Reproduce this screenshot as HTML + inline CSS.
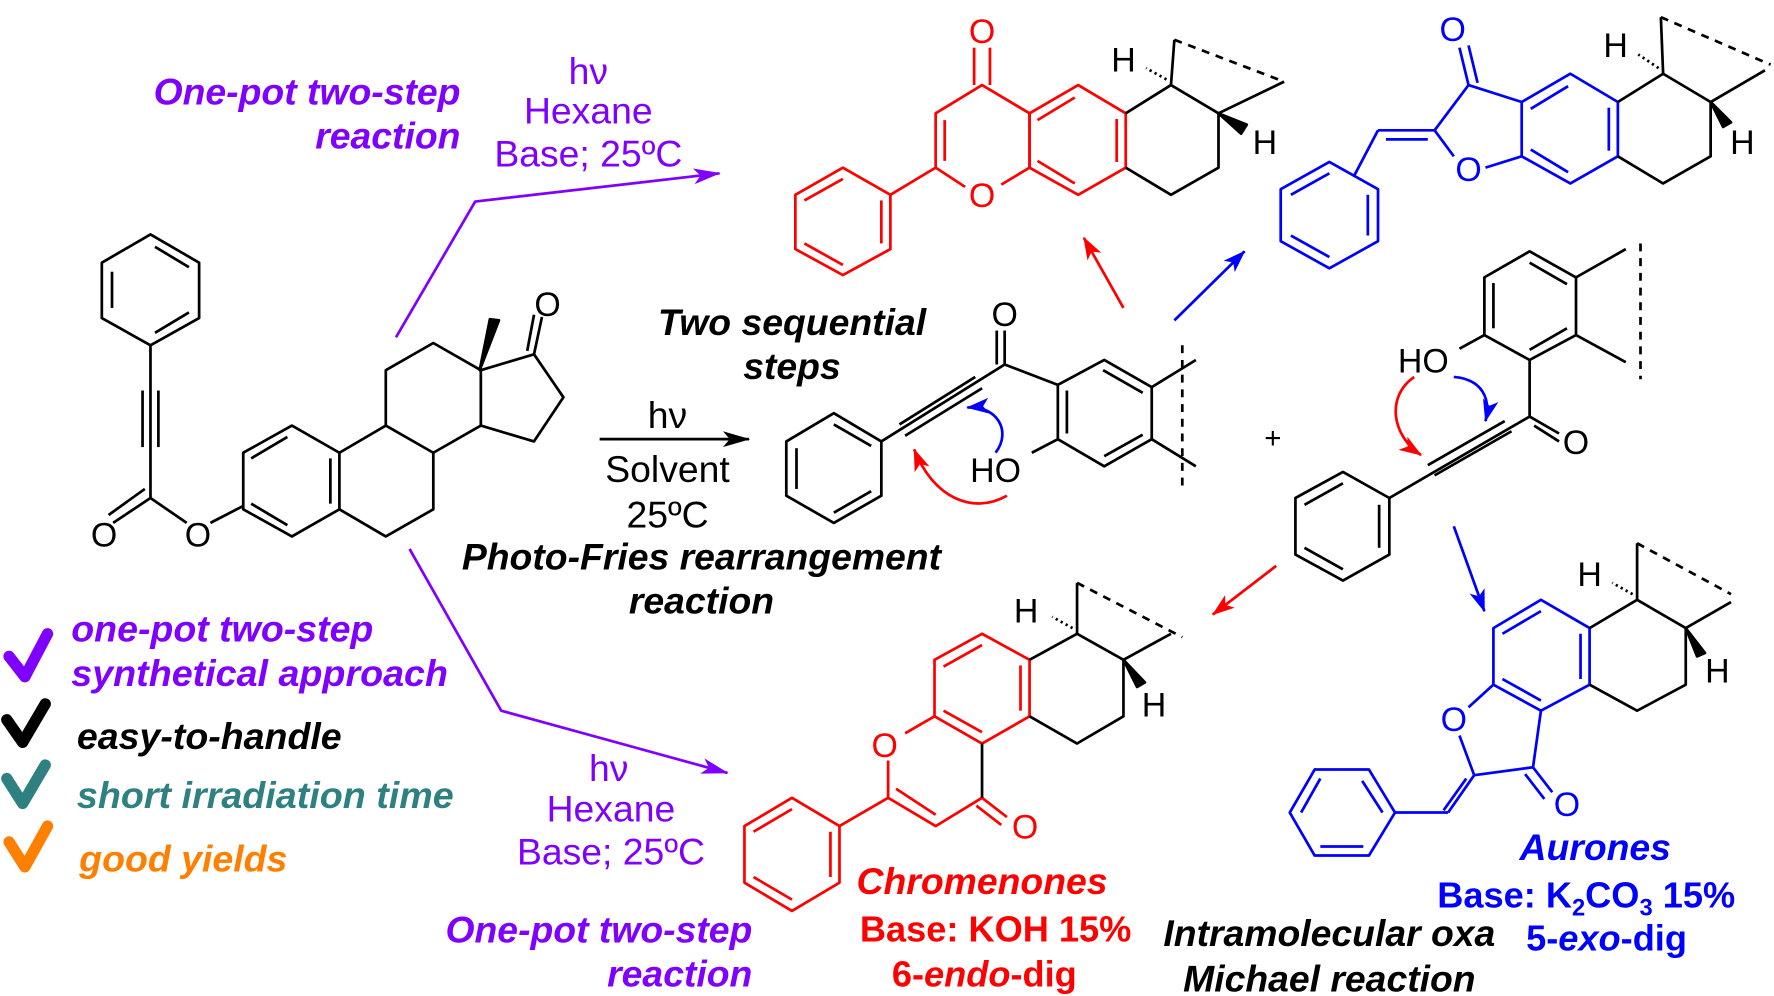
<!DOCTYPE html>
<html><head><meta charset="utf-8"><style>
html,body{margin:0;padding:0;background:#fff;}
svg{display:block;}
text{font-family:"Liberation Sans",Arial,sans-serif;}
.bi{font-weight:bold;font-style:italic;font-size:33px;}
.r{font-size:33px;}
.at{font-size:30px;}
</style></head><body>
<svg width="1774" height="996" viewBox="0 0 1568 880" xmlns="http://www.w3.org/2000/svg">
<defs>
<marker id="ak" markerWidth="24" markerHeight="14" refX="23" refY="7" orient="auto" markerUnits="userSpaceOnUse"><path d="M0,0 L24,7 L0,14 L6,7z" fill="#000"/></marker>
<marker id="ar" markerWidth="20" markerHeight="14" refX="19" refY="7" orient="auto" markerUnits="userSpaceOnUse"><path d="M0,0 L20,7 L0,14 L5,7z" fill="#f00"/></marker>
<marker id="ab" markerWidth="20" markerHeight="14" refX="19" refY="7" orient="auto" markerUnits="userSpaceOnUse"><path d="M0,0 L20,7 L0,14 L5,7z" fill="#00f"/></marker>
<marker id="app" markerWidth="24" markerHeight="14" refX="23" refY="7" orient="auto" markerUnits="userSpaceOnUse"><path d="M0,0 L24,7 L0,14 L6,7z" fill="#8000ff"/></marker>
</defs>
<g fill="none" stroke-width="2.4" stroke-linejoin="round">
<g stroke="#000">
<polygon points="133,207 176,232 176,281 133,305 90,281 90,232"/>
<line x1="137" y1="218" x2="167" y2="236"/><line x1="167" y1="276" x2="137" y2="294"/><line x1="99" y1="240" x2="99" y2="272"/>
<line x1="133" y1="305" x2="133" y2="440"/>
<line x1="126" y1="345" x2="126" y2="395"/><line x1="140" y1="345" x2="140" y2="395"/>
<line x1="133" y1="440" x2="100" y2="462"/><line x1="128" y1="432" x2="96" y2="455"/>
<line x1="133" y1="440" x2="165" y2="462"/>
<line x1="186" y1="462" x2="215" y2="447"/>
<polygon points="258,376 300,400 300,450 258,474 215,450 215,400"/>
<line x1="254" y1="386" x2="222" y2="405"/><line x1="292" y1="405" x2="292" y2="445"/><line x1="254" y1="464" x2="222" y2="445"/>
<polyline points="300,400 341,376 383,400 383,450 341,474 300,450"/>
<polyline points="341,376 341,327 383,303 425,327 425,376 383,400"/>
<polyline points="425,327 472,313 498,351 472,390 425,376"/>
<line x1="472" y1="313" x2="479" y2="280"/><line x1="466" y1="310" x2="472" y2="278"/>
<polygon points="424,327 433,282 441,283" fill="#000"/>
</g>
<g stroke="#8000ff">
<polyline points="350,298 420,178 636,153" marker-end="url(#app)"/>
<polyline points="362,485 443,628 643,683" marker-end="url(#app)"/>
</g>
<line x1="530" y1="388" x2="662" y2="388" stroke="#000" marker-end="url(#ak)"/>
<g stroke="#000">
<polygon points="737,365 779,390 779,438 737,462 695,438 695,390"/>
<line x1="737" y1="375" x2="770" y2="394"/><line x1="770" y1="434" x2="737" y2="453"/><line x1="704" y1="396" x2="704" y2="432"/>
<line x1="779" y1="390" x2="888" y2="322"/>
<line x1="800" y1="385" x2="868" y2="343"/><line x1="795" y1="375" x2="862" y2="333"/>
<line x1="888" y1="322" x2="888" y2="292"/><line x1="881" y1="322" x2="881" y2="292"/>
<line x1="888" y1="322" x2="935" y2="340"/>
<polygon points="935,340 976,318 1018,342 1018,388 976,412 935,388"/>
<line x1="975" y1="327" x2="1010" y2="347"/><line x1="1010" y1="384" x2="976" y2="403"/><line x1="943" y1="345" x2="943" y2="383"/>
<line x1="1018" y1="342" x2="1057" y2="318"/><line x1="1018" y1="388" x2="1057" y2="412"/>
<line x1="935" y1="388" x2="912" y2="400"/>
<line x1="1045" y1="305" x2="1045" y2="435" stroke-dasharray="7,6"/>
</g>
<path d="M890,438 C860,455 825,440 808,397" stroke="#f00" marker-end="url(#ar)"/>
<path d="M880,400 C895,380 880,358 855,360" stroke="#00f" marker-end="url(#ab)"/>
<g stroke="#000">
<polygon points="1352,222 1393,245 1393,296 1352,318 1312,296 1312,245"/>
<line x1="1352" y1="232" x2="1385" y2="251"/><line x1="1385" y1="290" x2="1352" y2="309"/><line x1="1320" y1="250" x2="1320" y2="290"/>
<line x1="1393" y1="245" x2="1437" y2="220"/><line x1="1393" y1="296" x2="1437" y2="320"/>
<line x1="1450" y1="215" x2="1450" y2="335" stroke-dasharray="7,6"/>
<line x1="1312" y1="296" x2="1290" y2="308"/>
<line x1="1352" y1="318" x2="1352" y2="368"/>
<line x1="1352" y1="368" x2="1378" y2="383"/><line x1="1356" y1="376" x2="1378" y2="390"/>
<line x1="1352" y1="368" x2="1228" y2="440"/>
<line x1="1330" y1="372" x2="1262" y2="411"/><line x1="1336" y1="381" x2="1268" y2="420"/>
<polygon points="1187,417 1228,440 1228,490 1187,513 1145,490 1145,440"/>
<line x1="1187" y1="427" x2="1153" y2="446"/><line x1="1219" y1="446" x2="1219" y2="484"/><line x1="1187" y1="503" x2="1153" y2="484"/>
</g>
<path d="M1250,333 C1225,350 1230,385 1256,402" stroke="#f00" marker-end="url(#ar)"/>
<path d="M1285,333 C1310,335 1318,352 1313,372" stroke="#00f" marker-end="url(#ab)"/>
<line x1="993" y1="272" x2="958" y2="210" stroke="#f00" marker-end="url(#ar)"/>
<line x1="1038" y1="283" x2="1100" y2="222" stroke="#00f" marker-end="url(#ab)"/>
<line x1="1128" y1="500" x2="1072" y2="543" stroke="#f00" marker-end="url(#ar)"/>
<line x1="1285" y1="465" x2="1312" y2="540" stroke="#00f" marker-end="url(#ab)"/>
<g stroke="#f00">
<polygon points="745,148 787,172 787,220 745,243 703,220 703,172"/>
<line x1="745" y1="158" x2="711" y2="177"/><line x1="711" y1="215" x2="745" y2="234"/><line x1="779" y1="177" x2="779" y2="215"/>
<line x1="787" y1="172" x2="827" y2="148"/>
<polyline points="853,165 827,148 827,100 868,75 910,100 910,148 885,163"/>
<line x1="835" y1="106" x2="835" y2="142"/>
<line x1="861" y1="75" x2="861" y2="42"/>
<line x1="875" y1="75" x2="875" y2="42"/>
<polygon points="910,100 953,75 995,100 995,148 953,172 910,148"/>
<line x1="917" y1="106" x2="950" y2="86"/><line x1="987" y1="105" x2="987" y2="143"/><line x1="917" y1="142" x2="950" y2="162"/>
</g>
<g stroke="#000">
<polyline points="995,100 1035,75 1077,100 1077,148 1035,172 995,148"/>
<line x1="1035" y1="75" x2="1038" y2="35"/>
<line x1="1038" y1="35" x2="1135" y2="72" stroke-dasharray="7,6"/>
<line x1="1077" y1="100" x2="1135" y2="72"/>
<line x1="1031" y1="70" x2="1013" y2="60" stroke-dasharray="2,3"/>
<polygon points="1077,100 1102,110 1097,118" fill="#000"/>
</g>
<g stroke="#00f">
<polygon points="1175,143 1218,167 1218,213 1175,237 1132,213 1132,167"/>
<line x1="1175" y1="153" x2="1141" y2="172"/><line x1="1141" y1="208" x2="1175" y2="227"/><line x1="1209" y1="172" x2="1209" y2="208"/>
<line x1="1197" y1="155" x2="1218" y2="115"/><line x1="1218" y1="115" x2="1268" y2="115"/><line x1="1225" y1="123" x2="1262" y2="123"/>
<polyline points="1285,138 1268,115 1298,75 1345,90"/>
<line x1="1298" y1="75" x2="1290" y2="42"/><line x1="1306" y1="73" x2="1298" y2="40"/>
<line x1="1345" y1="138" x2="1313" y2="148"/>
<polygon points="1345,90 1388,65 1430,90 1430,138 1388,162 1345,138"/>
<line x1="1353" y1="96" x2="1386" y2="76"/><line x1="1422" y1="95" x2="1422" y2="133"/><line x1="1353" y1="132" x2="1386" y2="152"/>
</g>
<g stroke="#000">
<polyline points="1430,90 1470,65 1512,90 1512,138 1470,162 1430,138"/>
<line x1="1470" y1="65" x2="1468" y2="15"/>
<line x1="1468" y1="15" x2="1565" y2="57" stroke-dasharray="7,6"/>
<line x1="1512" y1="90" x2="1560" y2="62"/>
<line x1="1466" y1="60" x2="1448" y2="48" stroke-dasharray="2,3"/>
<polygon points="1512,90 1530,108 1523,112" fill="#000"/>
</g>
<g stroke="#f00">
<polygon points="868,560 910,583 910,633 868,657 826,633 826,583"/>
<line x1="868" y1="570" x2="834" y2="589"/><line x1="902" y1="588" x2="902" y2="628"/><line x1="834" y1="628" x2="868" y2="647"/>
<line x1="826" y1="633" x2="800" y2="648"/>
<polyline points="785,672 785,705 827,730 868,705"/>
<line x1="792" y1="697" x2="827" y2="720"/>
<line x1="868" y1="705" x2="890" y2="722"/><line x1="863" y1="712" x2="885" y2="729"/>
<line x1="785" y1="705" x2="742" y2="730"/>
<polygon points="742,730 742,780 700,805 658,780 658,730 700,705"/>
<line x1="734" y1="735" x2="734" y2="775"/><line x1="700" y1="715" x2="666" y2="735"/><line x1="700" y1="795" x2="666" y2="775"/>
</g>
<g stroke="#000">
<line x1="868" y1="657" x2="868" y2="705"/>
<polyline points="910,583 952,560 993,583 993,633 952,657 910,633"/>
<line x1="952" y1="560" x2="952" y2="515"/>
<line x1="952" y1="515" x2="1045" y2="563" stroke-dasharray="7,6"/>
<line x1="993" y1="583" x2="1035" y2="560"/>
<line x1="948" y1="555" x2="930" y2="545" stroke-dasharray="2,3"/>
<polygon points="993,583 1012,603 1005,607" fill="#000"/>
</g>
<g stroke="#00f">
<polygon points="1362,530 1405,555 1405,605 1362,628 1320,605 1320,555"/>
<line x1="1362" y1="540" x2="1328" y2="560"/><line x1="1397" y1="560" x2="1397" y2="600"/><line x1="1328" y1="600" x2="1362" y2="619"/>
<line x1="1320" y1="605" x2="1298" y2="625"/>
<polyline points="1290,650 1303,685 1355,678 1362,628"/>
<line x1="1355" y1="678" x2="1372" y2="700"/><line x1="1348" y1="684" x2="1365" y2="706"/>
<line x1="1303" y1="685" x2="1280" y2="718"/>
<line x1="1296" y1="688" x2="1276" y2="716"/>
<line x1="1280" y1="718" x2="1233" y2="718"/>
<polygon points="1140,718 1162,680 1210,680 1233,718 1210,756 1162,756"/>
<line x1="1150" y1="718" x2="1167" y2="688"/><line x1="1204" y1="690" x2="1222" y2="718"/><line x1="1167" y1="748" x2="1205" y2="748"/>
</g>
<g stroke="#000">
<polyline points="1405,555 1447,530 1490,555 1490,605 1447,628 1405,605"/>
<line x1="1447" y1="530" x2="1447" y2="480"/>
<line x1="1447" y1="480" x2="1530" y2="525" stroke-dasharray="7,6"/>
<line x1="1490" y1="555" x2="1530" y2="532"/>
<line x1="1443" y1="525" x2="1425" y2="515" stroke-dasharray="2,3"/>
<polygon points="1490,555 1507,577 1500,580" fill="#000"/>
</g>
</g>
<g class="at" text-anchor="middle">
<text x="92" y="483">O</text><text x="175" y="483">O</text><text x="484" y="279">O</text>
<text x="888" y="288">O</text><text x="880" y="426">HO</text>
<text x="1258" y="329">HO</text><text x="1393" y="401">O</text>
<text x="1125" y="396" font-size="26">+</text>
<g fill="#f00"><text x="868" y="38">O</text><text x="868" y="183">O</text><text x="782" y="669">O</text><text x="906" y="741">O</text></g>
<g fill="#00f"><text x="1284" y="36">O</text><text x="1298" y="160">O</text><text x="1285" y="646">O</text><text x="1385" y="721">O</text></g>
<text x="993" y="63">H</text><text x="1118" y="136">H</text>
<text x="1428" y="50">H</text><text x="1540" y="136">H</text>
<text x="907" y="550">H</text><text x="1020" y="633">H</text>
<text x="1405" y="518">H</text><text x="1518" y="603">H</text>
</g>
<g fill="#8000ff">
<text class="bi" x="407" y="92" text-anchor="end">One-pot two-step</text>
<text class="bi" x="407" y="131" text-anchor="end">reaction</text>
<g class="r" text-anchor="middle"><text x="520" y="74">hν</text><text x="520" y="109">Hexane</text><text x="520" y="147">Base; 25ºC</text>
<text x="538" y="690">hν</text><text x="540" y="726">Hexane</text><text x="540" y="764">Base; 25ºC</text></g>
<text class="bi" x="665" y="833" text-anchor="end">One-pot two-step</text>
<text class="bi" x="665" y="872" text-anchor="end">reaction</text>
<text class="bi" x="63" y="567" textLength="267" lengthAdjust="spacingAndGlyphs">one-pot two-step</text>
<text class="bi" x="63" y="606" textLength="333" lengthAdjust="spacingAndGlyphs">synthetical approach</text>
</g>
<g text-anchor="middle">
<text class="bi" x="700" y="296">Two sequential</text><text class="bi" x="700" y="335">steps</text>
<g class="r"><text x="590" y="378">hν</text><text x="590" y="426">Solvent</text><text x="590" y="466">25ºC</text></g>
<text class="bi" x="620" y="503">Photo-Fries rearrangement</text><text class="bi" x="620" y="542">reaction</text>
<text class="bi" x="868" y="790" fill="#f00">Chromenones</text>
<text x="880" y="832" fill="#f00" font-weight="bold" font-size="32">Base: KOH 15%</text>
<text x="870" y="872" fill="#f00" font-weight="bold" font-size="32">6-<tspan font-style="italic">endo</tspan>-dig</text>
<text class="bi" x="1175" y="836">Intramolecular oxa</text><text class="bi" x="1175" y="876">Michael reaction</text>
<text class="bi" x="1410" y="760" fill="#00f">Aurones</text>
<text x="1402" y="802" fill="#00f" font-weight="bold" font-size="32">Base: K<tspan font-size="21" dy="7">2</tspan><tspan dy="-7">CO</tspan><tspan font-size="21" dy="7">3</tspan><tspan dy="-7"> 15%</tspan></text>
<text x="1420" y="840" fill="#00f" font-weight="bold" font-size="32">5-<tspan font-style="italic">exo</tspan>-dig</text>
</g>
<text class="bi" x="68" y="662" textLength="234" lengthAdjust="spacingAndGlyphs">easy-to-handle</text>
<text class="bi" x="68" y="714" fill="#2f8080" textLength="333" lengthAdjust="spacingAndGlyphs">short irradiation time</text>
<text class="bi" x="70" y="770" fill="#ff8000" textLength="184" lengthAdjust="spacingAndGlyphs">good yields</text>
<g stroke-linecap="round" stroke-linejoin="round" fill="none" stroke-width="10">
<polyline points="8,580 22,598 42,560" stroke="#8000ff"/>
<polyline points="6,636 20,656 40,622" stroke="#000"/>
<polyline points="6,688 20,710 40,676" stroke="#2f8080"/>
<polyline points="8,744 22,766 42,730" stroke="#ff8000"/>
</g>
</svg>
</body></html>
